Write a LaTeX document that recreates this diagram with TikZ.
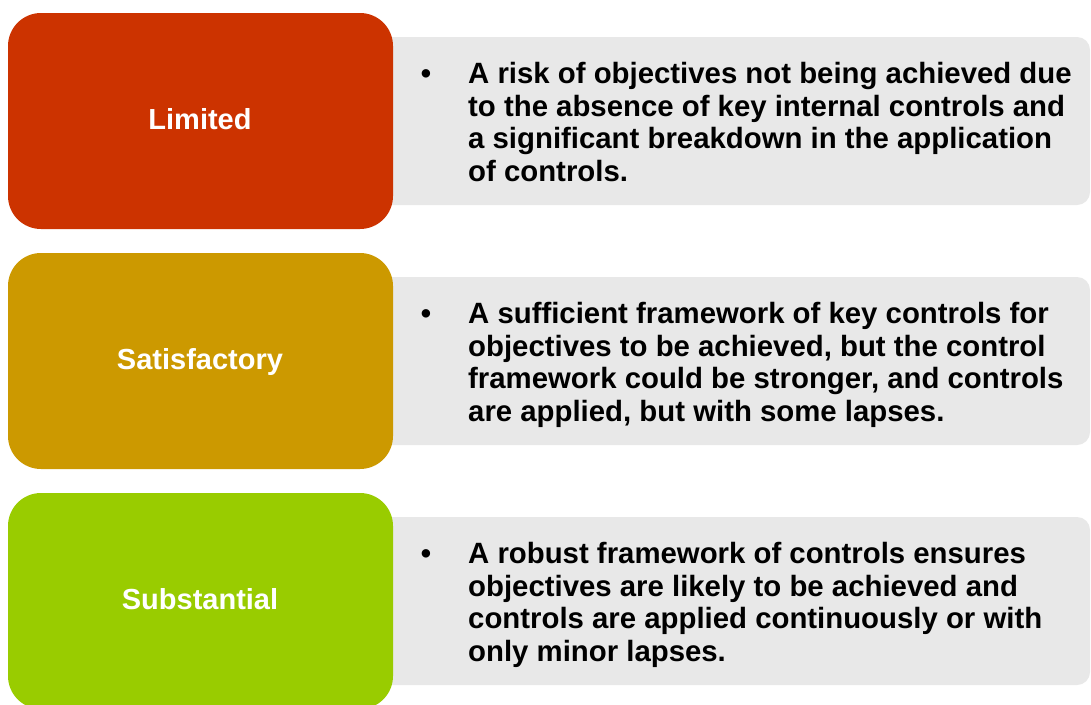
\documentclass[tikz,border=0pt]{standalone}
\usepackage{fontspec}
\setmainfont{Liberation Sans}
\definecolor{cLimited}{HTML}{CC3300}
\definecolor{cSatis}{HTML}{CC9900}
\definecolor{cSubst}{HTML}{99CC00}
\definecolor{cGray}{HTML}{E8E8E8}
\begin{document}
\begin{tikzpicture}[x=1pt,y=-1pt,
  graybox/.style={fill=cGray, draw=none, rounded corners=13pt},
  levelbox/.style={draw=none, rounded corners=33pt},
  label/.style={text=white, font=\fontsize{29}{34}\selectfont\bfseries, inner sep=0pt, anchor=base},
  desc/.style={text=black, font=\fontsize{29.35}{32.8}\selectfont\bfseries, align=left, inner sep=0pt, anchor=base west},
  bul/.style={text=black, font=\fontsize{29.35}{32.8}\selectfont\bfseries, inner sep=0pt, anchor=base}]
\useasboundingbox (0,0) rectangle (1091,704);
\fill[white] (0,0) rectangle (1091,704);
% row 1
\path[graybox] (380,37) rectangle (1090,205);
\path[levelbox, fill=cLimited] (8,13) rectangle (393,229);
\node[label] (l1) at (200,129.3) {Limited};
\node[bul] (b1) at (426,83.3) {•};
\node[desc] (d1) at (468,181.7) {A risk of objectives not being achieved due\\to the absence of key internal controls and\\a significant breakdown in the application\\of controls.};
% row 2
\path[graybox] (380,277) rectangle (1090,445);
\path[levelbox, fill=cSatis] (8,253) rectangle (393,469);
\node[label] (l2) at (200,369.3) {Satisfactory};
\node[bul] (b2) at (426,323.3) {•};
\node[desc] (d2) at (468,421.7) {A sufficient framework of key controls for\\objectives to be achieved, but the control\\framework could be stronger, and controls\\are applied, but with some lapses.};
% row 3
\path[graybox] (380,517) rectangle (1090,685);
\path[levelbox, fill=cSubst] (8,493) rectangle (393,709);
\node[label] (l3) at (200,609.3) {Substantial};
\node[bul] (b3) at (426,563.3) {•};
\node[desc] (d3) at (468,661.7) {A robust framework of controls ensures\\objectives are likely to be achieved and\\controls are applied continuously or with\\only minor lapses.};
\end{tikzpicture}
\end{document}
